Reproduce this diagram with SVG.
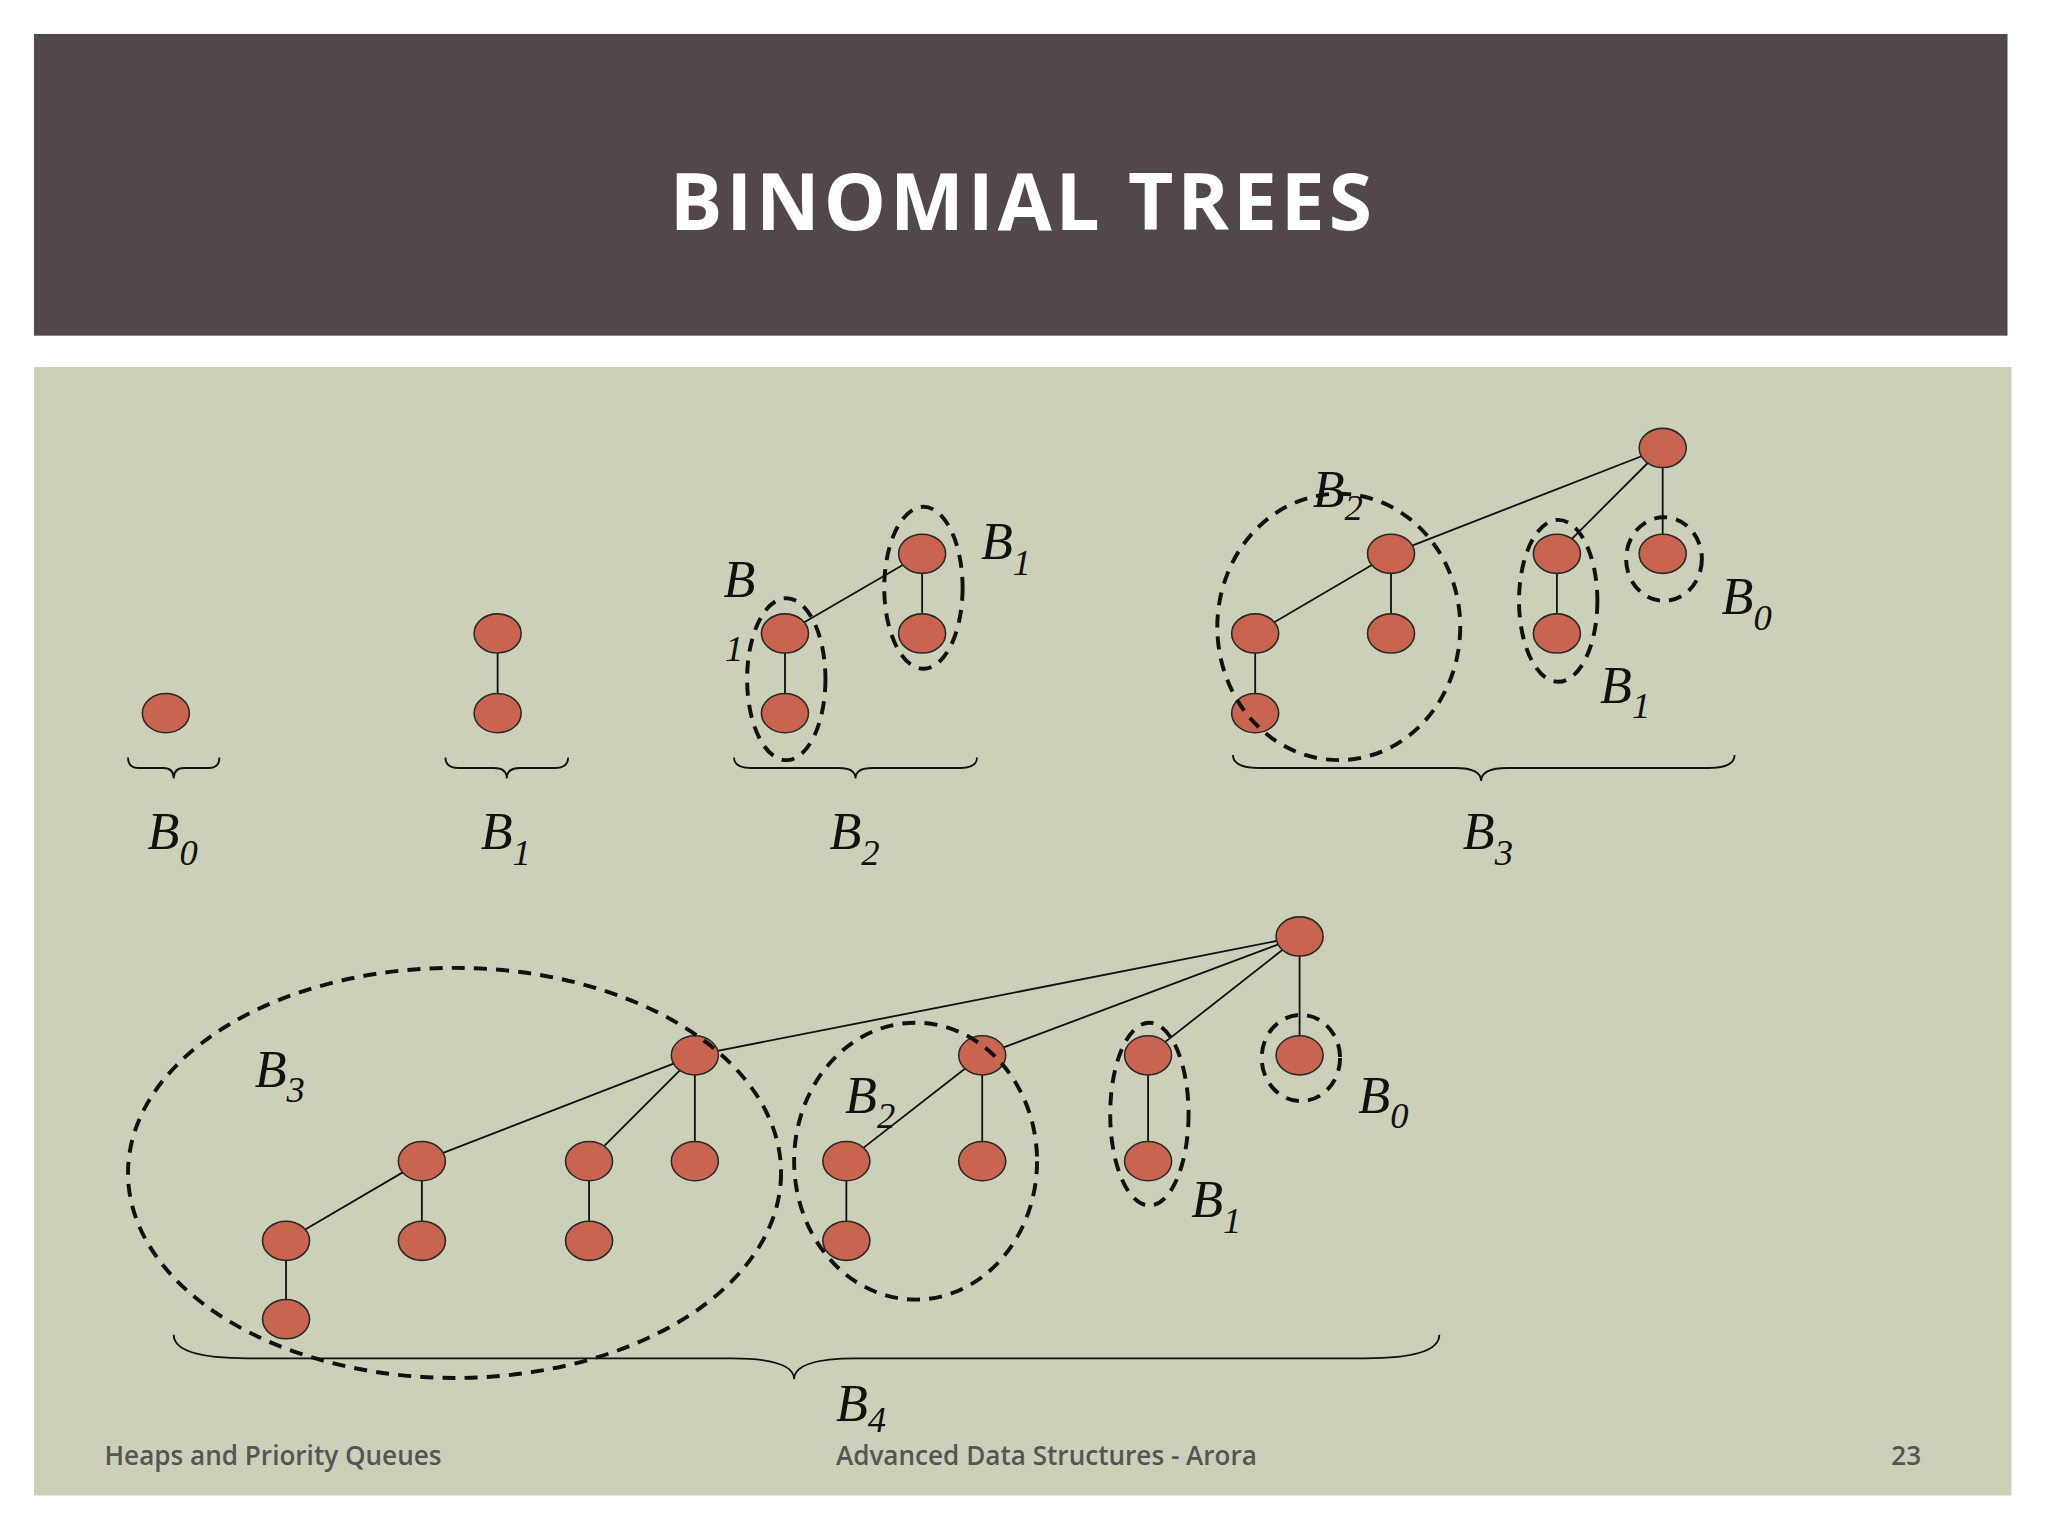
<svg xmlns="http://www.w3.org/2000/svg" width="2048" height="1536" viewBox="0 0 2048 1536">
<style>
.n{fill:#c8644f;stroke:#2a2a2a;stroke-width:1.2}
.e{stroke:#111;stroke-width:1.4;fill:none}
.d{fill:none;stroke:#111;stroke-width:3;stroke-dasharray:10 7}
.b{fill:none;stroke:#111;stroke-width:1.4}
.l{font-family:"Liberation Serif",serif;font-style:italic;font-size:40px;fill:#111}
.s{font-size:28px}
.f{font-family:"Open Sans","Liberation Sans",sans-serif;font-weight:600;font-size:20px;fill:#555}
</style>
<rect width="2048" height="1536" fill="#fff"/>
<g transform="scale(1.30612)">
<rect x="26" y="26" width="1511" height="231" fill="#524849"/>
<text x="783" y="176" text-anchor="middle" font-family="'Open Sans','Liberation Sans',sans-serif" font-weight="700" font-size="60" letter-spacing="3" fill="#fff">BINOMIAL TREES</text>
<rect x="26" y="281" width="1514" height="864" fill="#cdd0b9"/>
<g id="connectors">
<line class="e" x1="381" y1="485" x2="381" y2="546"/>
<line class="e" x1="601" y1="485" x2="706" y2="424"/>
<line class="e" x1="601" y1="485" x2="601" y2="546"/>
<line class="e" x1="706" y1="424" x2="706" y2="485"/>
<line class="e" x1="1273" y1="343" x2="1065" y2="424"/>
<line class="e" x1="1273" y1="343" x2="1192" y2="424"/>
<line class="e" x1="1273" y1="343" x2="1273" y2="424"/>
<line class="e" x1="1065" y1="424" x2="961" y2="485"/>
<line class="e" x1="1065" y1="424" x2="1065" y2="485"/>
<line class="e" x1="961" y1="485" x2="961" y2="546"/>
<line class="e" x1="1192" y1="424" x2="1192" y2="485"/>
<line class="e" x1="995" y1="717" x2="532" y2="808"/>
<line class="e" x1="995" y1="717" x2="752" y2="808"/>
<line class="e" x1="995" y1="717" x2="879" y2="808"/>
<line class="e" x1="995" y1="717" x2="995" y2="808"/>
<line class="e" x1="532" y1="808" x2="323" y2="889"/>
<line class="e" x1="532" y1="808" x2="451" y2="889"/>
<line class="e" x1="532" y1="808" x2="532" y2="889"/>
<line class="e" x1="323" y1="889" x2="219" y2="950"/>
<line class="e" x1="323" y1="889" x2="323" y2="950"/>
<line class="e" x1="219" y1="950" x2="219" y2="1010"/>
<line class="e" x1="451" y1="889" x2="451" y2="950"/>
<line class="e" x1="752" y1="808" x2="648" y2="889"/>
<line class="e" x1="752" y1="808" x2="752" y2="889"/>
<line class="e" x1="648" y1="889" x2="648" y2="950"/>
<line class="e" x1="879" y1="808" x2="879" y2="889"/>
</g>
<g id="nodes">
<ellipse class="n" cx="127" cy="546" rx="18" ry="15"/>
<ellipse class="n" cx="381" cy="485" rx="18" ry="15"/>
<ellipse class="n" cx="381" cy="546" rx="18" ry="15"/>
<ellipse class="n" cx="601" cy="485" rx="18" ry="15"/>
<ellipse class="n" cx="601" cy="546" rx="18" ry="15"/>
<ellipse class="n" cx="706" cy="424" rx="18" ry="15"/>
<ellipse class="n" cx="706" cy="485" rx="18" ry="15"/>
<ellipse class="n" cx="1273" cy="343" rx="18" ry="15"/>
<ellipse class="n" cx="1065" cy="424" rx="18" ry="15"/>
<ellipse class="n" cx="1192" cy="424" rx="18" ry="15"/>
<ellipse class="n" cx="1273" cy="424" rx="18" ry="15"/>
<ellipse class="n" cx="961" cy="485" rx="18" ry="15"/>
<ellipse class="n" cx="1065" cy="485" rx="18" ry="15"/>
<ellipse class="n" cx="961" cy="546" rx="18" ry="15"/>
<ellipse class="n" cx="1192" cy="485" rx="18" ry="15"/>
<ellipse class="n" cx="995" cy="717" rx="18" ry="15"/>
<ellipse class="n" cx="532" cy="808" rx="18" ry="15"/>
<ellipse class="n" cx="752" cy="808" rx="18" ry="15"/>
<ellipse class="n" cx="879" cy="808" rx="18" ry="15"/>
<ellipse class="n" cx="995" cy="808" rx="18" ry="15"/>
<ellipse class="n" cx="323" cy="889" rx="18" ry="15"/>
<ellipse class="n" cx="451" cy="889" rx="18" ry="15"/>
<ellipse class="n" cx="532" cy="889" rx="18" ry="15"/>
<ellipse class="n" cx="219" cy="950" rx="18" ry="15"/>
<ellipse class="n" cx="323" cy="950" rx="18" ry="15"/>
<ellipse class="n" cx="219" cy="1010" rx="18" ry="15"/>
<ellipse class="n" cx="451" cy="950" rx="18" ry="15"/>
<ellipse class="n" cx="648" cy="889" rx="18" ry="15"/>
<ellipse class="n" cx="752" cy="889" rx="18" ry="15"/>
<ellipse class="n" cx="648" cy="950" rx="18" ry="15"/>
<ellipse class="n" cx="879" cy="889" rx="18" ry="15"/>
</g>
<g id="groups">
<ellipse class="d" cx="602" cy="520" rx="30" ry="62"/>
<ellipse class="d" cx="707" cy="450" rx="30" ry="62"/>
<ellipse class="d" cx="1025" cy="480" rx="93" ry="102"/>
<ellipse class="d" cx="1193" cy="460" rx="30" ry="62"/>
<ellipse class="d" cx="1274" cy="428" rx="29" ry="32"/>
<ellipse class="d" cx="348" cy="898" rx="250" ry="157"/>
<ellipse class="d" cx="701" cy="889" rx="93" ry="106"/>
<ellipse class="d" cx="880" cy="853" rx="30" ry="70"/>
<ellipse class="d" cx="996" cy="810" rx="30" ry="33"/>
</g>
<g id="braces">
<path class="b" d="M98,580 Q98,588 106,588 L125,588 Q133,588 133,596 Q133,588 141,588 L160,588 Q168,588 168,580"/>
<path class="b" d="M341,580 Q341,588 351,588 L378,588 Q388,588 388,596 Q388,588 398,588 L425,588 Q435,588 435,580"/>
<path class="b" d="M562,580 Q562,588 575,588 L642,588 Q655,588 655,596 Q655,588 668,588 L735,588 Q748,588 748,580"/>
<path class="b" d="M944,578 Q944,588 964,588 L1114,588 Q1134,588 1134,598 Q1134,588 1154,588 L1308,588 Q1328,588 1328,578"/>
<path class="b" d="M133,1022 Q133,1040 190,1040 L560,1040 Q608,1040 608,1056 Q608,1040 656,1040 L1045,1040 Q1102,1040 1102,1022"/>
</g>
<g id="labels">
<text class="l" x="113" y="650">B<tspan class="s" dy="12">0</tspan></text>
<text class="l" x="368" y="650">B<tspan class="s" dy="12">1</tspan></text>
<text class="l" x="635" y="650">B<tspan class="s" dy="12">2</tspan></text>
<text class="l" x="1120" y="650">B<tspan class="s" dy="12">3</tspan></text>
<text class="l" x="554" y="457">B</text>
<text class="l s" x="555" y="506">1</text>
<text class="l" x="751" y="428">B<tspan class="s" dy="12">1</tspan></text>
<text class="l" x="1005" y="388">B<tspan class="s" dy="10">2</tspan></text>
<text class="l" x="1318" y="470">B<tspan class="s" dy="12">0</tspan></text>
<text class="l" x="1225" y="538">B<tspan class="s" dy="12">1</tspan></text>
<text class="l" x="195" y="832">B<tspan class="s" dy="12">3</tspan></text>
<text class="l" x="647" y="852">B<tspan class="s" dy="12">2</tspan></text>
<text class="l" x="1040" y="852">B<tspan class="s" dy="12">0</tspan></text>
<text class="l" x="912" y="932">B<tspan class="s" dy="12">1</tspan></text>
<text class="l" x="640" y="1088">B<tspan class="s" dy="8">4</tspan></text>
</g>
<text class="f" x="80" y="1122">Heaps and Priority Queues</text>
<text class="f" x="640" y="1122">Advanced Data Structures - Arora</text>
<text class="f" x="1448" y="1122">23</text>
</g>
</svg>
